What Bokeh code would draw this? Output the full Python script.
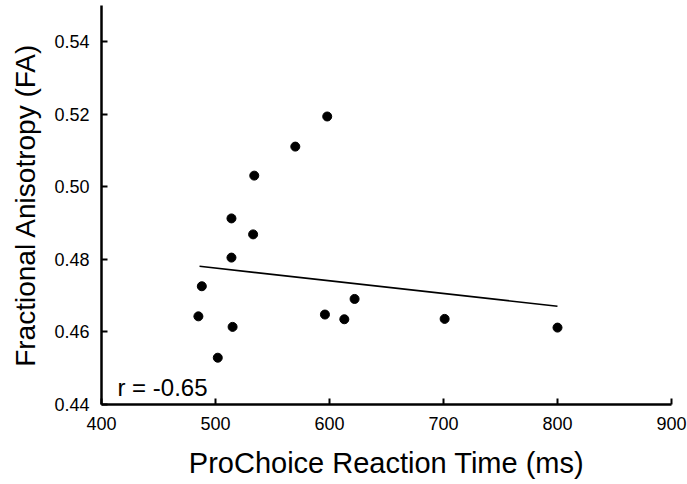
from bokeh.plotting import figure
from bokeh.models import Range1d, FixedTicker, NumeralTickFormatter, Label
from bokeh.embed import file_html
from bokeh.resources import INLINE

# data
rt_ms = [598, 570, 534, 514, 533, 514, 488, 485, 515, 502, 596, 613, 622, 701, 800]
fa = [0.5194, 0.5111, 0.5031, 0.4913, 0.4869, 0.4805, 0.4726, 0.4643, 0.4614,
      0.4529, 0.4648, 0.4635, 0.4691, 0.4636, 0.4612]
fit_x = [486, 800]
fit_y = [0.4781, 0.4671]
x_ticks = [400, 500, 600, 700, 800, 900]
y_ticks = [0.44, 0.46, 0.48, 0.50, 0.52, 0.54]
r_text = "r = -0.65"
x_title = "ProChoice Reaction Time (ms)"
y_title = "Fractional Anisotropy (FA)"

FONT = "Liberation Sans"

p = figure(width=687, height=484, output_backend="svg", toolbar_location=None,
           x_range=Range1d(400, 900), y_range=Range1d(0.44, 0.55),
           min_border_left=101, min_border_right=16, min_border_top=5,
           min_border_bottom=80)
p.outline_line_color = None
p.xgrid.visible = False
p.ygrid.visible = False
p.background_fill_color = "white"
p.border_fill_color = "white"

p.line(fit_x, fit_y, line_color="black", line_width=1.6)
p.scatter(rt_ms, fa, size=9, fill_color="black", line_color="black")

for ax in (p.xaxis[0], p.yaxis[0]):
    ax.axis_line_width = 2.5
    ax.axis_line_color = "black"
    ax.major_tick_line_width = 2
    ax.major_tick_line_color = "black"
    ax.major_tick_in = 6
    ax.major_tick_out = 0
    ax.minor_tick_line_color = None
    ax.major_label_text_font = FONT
    ax.major_label_text_font_size = "18px"
    ax.major_label_text_color = "black"
    ax.axis_label_text_font = FONT
    ax.axis_label_text_font_size = "28px"
    ax.axis_label_text_font_style = "normal"
    ax.axis_label_text_color = "black"

p.xaxis.axis_label_text_font_size = "29px"
p.xaxis.ticker = FixedTicker(ticks=x_ticks)
p.yaxis.ticker = FixedTicker(ticks=y_ticks)
p.yaxis.formatter = NumeralTickFormatter(format="0.00")
p.xaxis.axis_label = x_title
p.yaxis.axis_label = y_title
p.xaxis.major_label_standoff = 12
p.yaxis.major_label_standoff = 12
p.xaxis.axis_label_standoff = 14
p.yaxis.axis_label_standoff = 10

p.add_layout(Label(x=414, y=0.4447, text=r_text, text_font=FONT,
                   text_font_size="24px", text_color="black",
                   text_baseline="alphabetic"))

open("out.html", "w").write(file_html(p, INLINE))
